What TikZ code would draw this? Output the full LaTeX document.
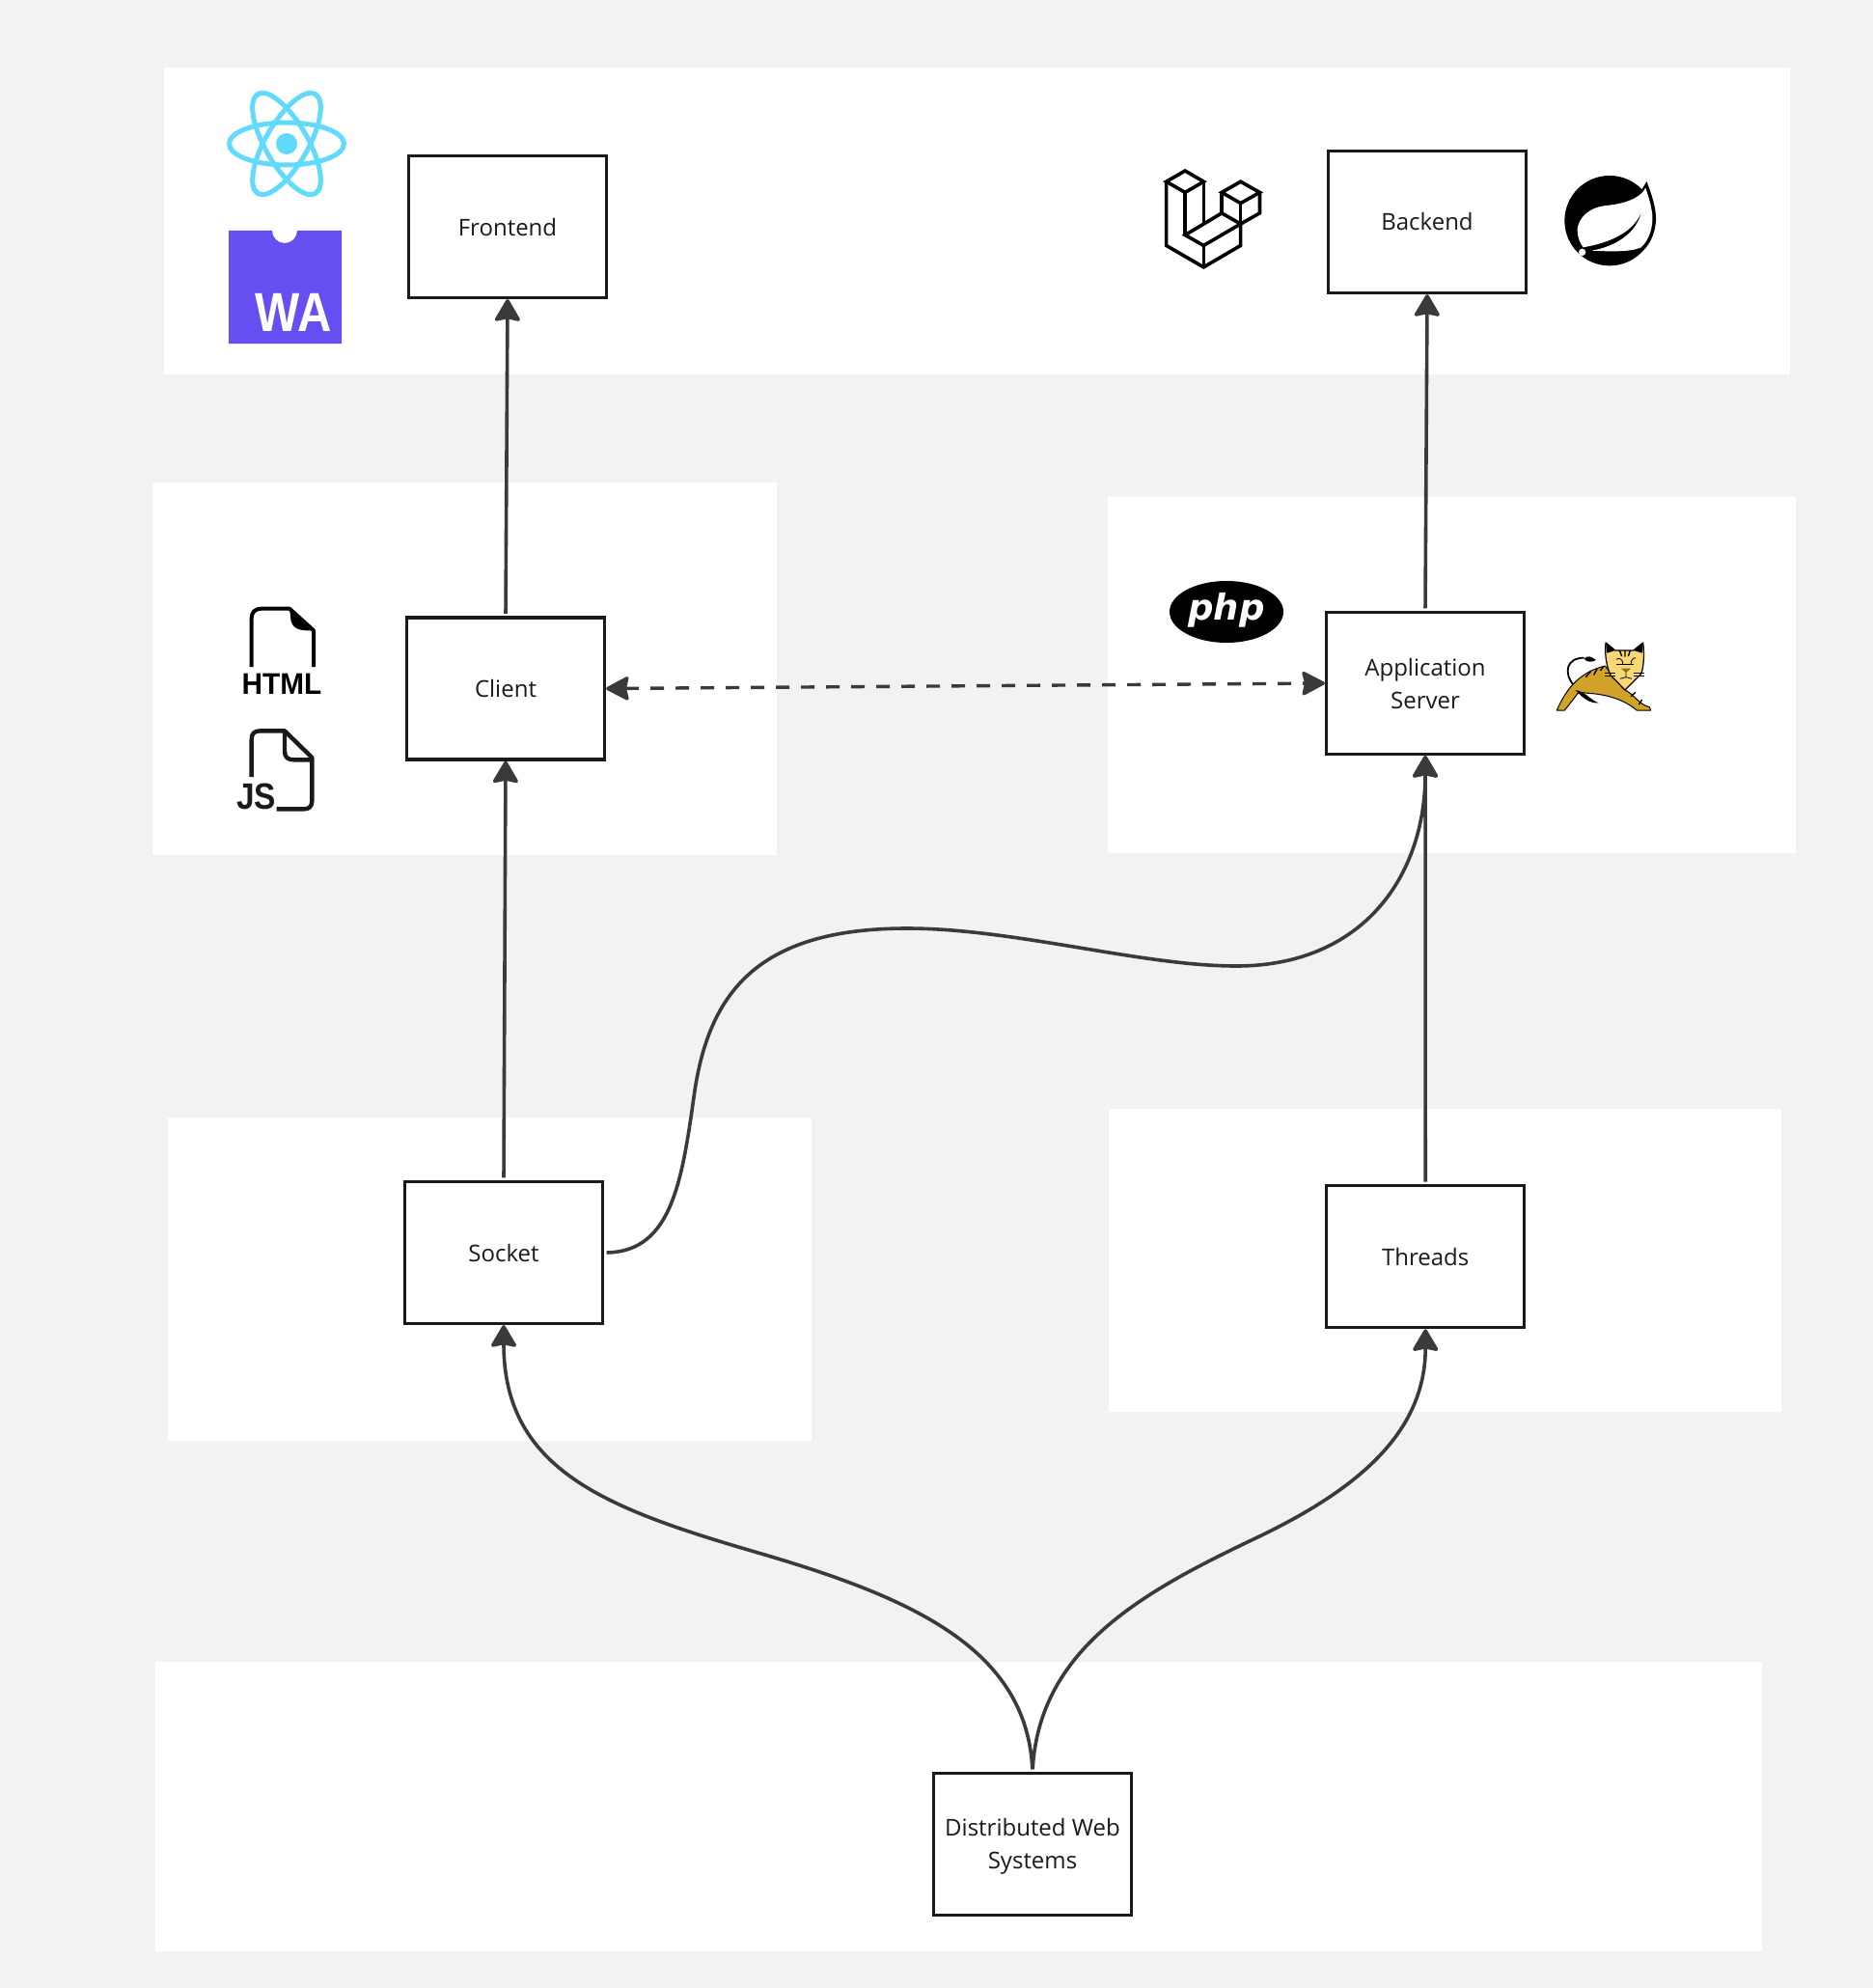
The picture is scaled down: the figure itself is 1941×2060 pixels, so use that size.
\documentclass[tikz,border=0pt]{standalone}
\usepackage{fontspec}
\setmainfont{Open Sans}
\newfontfamily\logofont{Liberation Sans}
\newfontfamily\phpfont{DejaVu Sans}
\usetikzlibrary{arrows.meta}
\definecolor{bgc}{HTML}{F2F2F2}
\definecolor{ink}{HTML}{1A1A1A}
\definecolor{conc}{HTML}{3A3A3A}
\definecolor{reactc}{HTML}{61DAFB}
\definecolor{wac}{HTML}{654FF0}
\definecolor{catY}{HTML}{F8D775}
\definecolor{catG}{HTML}{D0A228}
\tikzset{
  panel/.style={fill=white,draw=none},
  box/.style={draw=ink,fill=white,line width=1.6pt,minimum width=102.5pt,minimum height=73.5pt,align=center,inner sep=0pt,text=ink,font=\fontsize{12}{17}\selectfont},
  conn/.style={draw=conc,line width=1.8pt,-{Stealth[length=12.5pt,width=14.5pt,inset=1.5pt,round]},shorten >=0pt,shorten <=1.3pt},
  dconn/.style={draw=conc,line width=1.7pt,dash pattern=on 7pt off 6pt,{Stealth[length=13pt,width=13.5pt,inset=1.5pt,round]}-{Stealth[length=13pt,width=13.5pt,inset=1.5pt,round]},shorten >=0pt,shorten <=0pt},
  logotext/.style={inner sep=0pt,outer sep=0pt,text=#1},
  lara/.style={draw=black,line width=1.8pt,line join=miter},
  filedoc/.style={draw=black,line width=2pt,line join=round},
  cat/.style={draw=black,line width=.5pt,line join=round},
}
\begin{document}
\begin{tikzpicture}[x=.5pt,y=-.5pt]
\useasboundingbox (0,0) rectangle (1941,2060);
\fill[bgc] (0,0) rectangle (1941,2060);
% panels
\fill[panel] (170,70) rectangle (1855,388);
\fill[panel] (158,500) rectangle (805,886);
\fill[panel] (1148,515) rectangle (1861,884);
\fill[panel] (174,1158) rectangle (841,1493);
\fill[panel] (1149,1149) rectangle (1846,1463);
\fill[panel] (161,1722) rectangle (1826,2022);
% boxes
\node[box] (frontend) at (526,235) {Frontend};
\node[box] (backend) at (1479,230) {Backend};
\node[box] (client) at (524,713.5) {Client};
\node[box] (app) at (1477,708) {Application\\Server};
\node[box] (socket) at (522,1298) {Socket};
\node[box] (threads) at (1477.2,1302.2) {Threads};
\node[box] (dws) at (1070,1911) {\rule{0pt}{11.6pt}Distributed Web\\Systems};
% connectors
\draw[conn] (client.north) -- (frontend.south);
\draw[conn] (app.north) -- (backend.south);
\draw[conn] (socket.north) -- (client.south);
\draw[conn] (threads.north) -- (app.south);
\draw[dconn] (client.east) -- (app.west);
\draw[conn] (socket.east) .. controls (697,1297) and (707,1222) .. (720,1130)
  .. controls (736,1025) and (789,962) .. (940,962)
  .. controls (1051,962) and (1183,1001) .. (1281,1001)
  .. controls (1413,1001) and (1477,907) .. (app.south);
\draw[conn] (dws.north) .. controls (1064,1709) and (946,1656) .. (789,1610)
  .. controls (631,1564) and (522,1525) .. (socket.south);
\draw[conn] (dws.north) .. controls (1077,1709) and (1183,1650) .. (1301,1594)
  .. controls (1406,1544) and (1477.2,1485) .. (threads.south);
% React
\foreach \a in {0,60,120}{
  \draw[reactc,line width=2.5pt,rotate around={\a:(297,149)}] (297,149) ellipse [x radius=59.5,y radius=22];
}
\fill[reactc] (297,149) circle [radius=11];
% WebAssembly
\fill[wac] (237,239) -- (282,239) arc[start angle=180,end angle=0,radius=13] -- (354,239) -- (354,356) -- (237,356) -- cycle;
\node[logotext=white,font=\logofont\bfseries\fontsize{28.5}{28.5}\selectfont,xscale=.86,anchor=base] (wa) at (304,343) {WA};
% Laravel
\begin{scope}[shift={(1183,153)},x=.171pt,y=-.16pt]
\draw[lara] (75,110) -- (132,75) -- (188,110) -- (132,145) -- cycle;
\draw[lara] (132,145) -- (132,283);
\draw[lara] (188,110) -- (188,247);
\draw[lara] (75,110) -- (75,317) -- (188,387) -- (300,317) -- (300,247);
\draw[lara] (132,283) -- (243,212) -- (300,247) -- (188,317) -- cycle;
\draw[lara] (188,317) -- (188,387);
\draw[lara] (243,145) -- (300,110) -- (358,145) -- (300,180) -- cycle;
\draw[lara] (243,145) -- (243,212);
\draw[lara] (300,180) -- (300,247);
\draw[lara] (358,145) -- (358,212) -- (300,247);
\end{scope}
% Spring
\begin{scope}[shift={(1618,178)},x=.16667pt,y=-.16667pt]
\fill[black] (150,152) circle [radius=140];
\fill[black] (265,30) .. controls (285,80) and (300,130) .. (292,170) .. controls (285,210) and (265,240) .. (240,255) -- (180,180) -- cycle;
\fill[white] (262,50) .. controls (245,85) and (190,100) .. (140,105)
  .. controls (85,110) and (52,145) .. (50,180)
  .. controls (50,205) and (60,225) .. (68,235)
  .. controls (150,220) and (225,190) .. (250,122)
  .. controls (235,190) and (170,232) .. (95,245)
  .. controls (150,248) and (215,250) .. (248,235)
  .. controls (275,210) and (285,170) .. (283,135)
  .. controls (280,105) and (270,75) .. cycle;
\fill[white] (65,250) circle [radius=11];
\end{scope}
% HTML file
\begin{scope}[shift={(220,610)},x=.16667pt,y=-.16667pt]
\draw[filedoc] (122,243) -- (122,95) .. controls (122,72) and (132,62) .. (155,62) -- (240,62) -- (315,130) -- (315,243);
\fill[black] (240,62) -- (315,130) .. controls (270,132) and (243,125) .. (243,85) -- cycle;
\node[logotext=black,font=\logofont\bfseries\fontsize{15.5}{15.5}\selectfont,xscale=.96,anchor=base] (html) at (216,327) {HTML};
\end{scope}
% JS file
\begin{scope}[shift={(220,610)},x=.16667pt,y=-.16667pt]
\draw[filedoc,draw=ink,line width=2.2pt] (122,585) -- (122,470) .. controls (122,450) and (130,442) .. (150,442) -- (225,442) -- (310,525) -- (310,660) .. controls (310,678) and (300,685) .. (285,685) -- (200,685);
\draw[filedoc,draw=ink,line width=2.2pt] (225,442) -- (225,505) .. controls (225,525) and (235,532) .. (255,532) -- (310,532);
\node[logotext=ink,font=\logofont\bfseries\fontsize{19}{19}\selectfont,xscale=.88,anchor=base] (js) at (137,686) {JS};
\end{scope}
% PHP
\fill[black] (1271,634) ellipse [x radius=59,y radius=32];
\node[logotext=white,font=\phpfont\bfseries\itshape\fontsize{18.5}{18.5}\selectfont,anchor=base] (php) at (1271,642) {php};
% Tomcat
\begin{scope}[shift={(1610,660)},x=.16667pt,y=-.16667pt]
\draw[black,line width=.9pt] (62,150) .. controls (30,110) and (40,65) .. (95,65);
\fill[black] (95,68) .. controls (105,55) and (120,62) .. (132,72) .. controls (120,80) and (100,78) .. cycle;
\draw[cat,fill=catG] (10,228) .. controls (40,160) and (80,110) .. (160,90) -- (190,130) -- (222,165) .. controls (250,178) and (265,210) .. (298,218) -- (302,228) -- (258,228) .. controls (225,198) and (170,180) .. (120,176) -- (78,172) .. controls (60,195) and (45,215) .. (34,228) -- cycle;
\fill[black] (68,165) .. controls (100,170) and (112,195) .. (140,205) .. controls (112,207) and (90,190) .. cycle;
\draw[black,line width=.7pt] (100,125) -- (115,108) (125,118) -- (135,100) (145,105) -- (155,92) (240,185) -- (255,172) (265,210) -- (275,195);
\draw[cat,fill=catY,line width=.6pt] (162,18) -- (192,42) -- (248,42) -- (278,18) .. controls (283,55) and (280,95) .. (272,115) -- (222,165) -- (178,120) .. controls (165,95) and (158,55) .. cycle;
\fill[black] (162,18) -- (192,42) -- (166,50) -- cycle;
\fill[black] (278,18) -- (248,42) -- (276,50) -- cycle;
\draw[black,line width=.4pt] (195,70) .. controls (205,60) and (218,75) .. (215,85) (240,85) .. controls (240,70) and (250,65) .. (255,65);
\draw[black,line width=.5pt] (195,85) -- (250,85);
\draw[black,line width=.7pt] (205,42) -- (212,60) (222,42) -- (222,62) (238,42) -- (232,60);
\fill[catG!70!black] (210,98) -- (240,98) -- (225,112) -- cycle;
\draw[black,line width=.4pt] (225,112) -- (225,125) (207,130) -- (225,125) -- (243,130);
\draw[black,line width=.4pt] (160,112) -- (192,112) (160,120) -- (192,120) (250,112) -- (282,112) (250,122) -- (282,122);
\end{scope}
\end{tikzpicture}
\end{document}
